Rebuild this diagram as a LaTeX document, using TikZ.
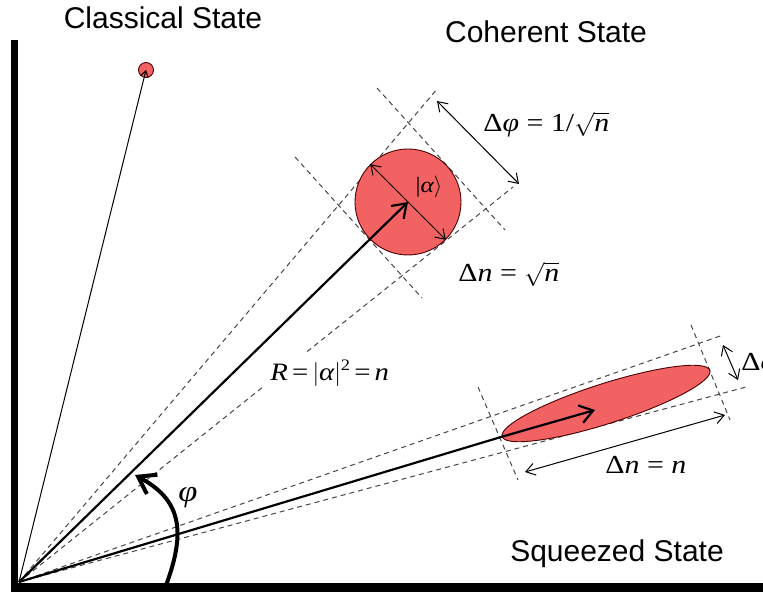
\documentclass[tikz,border=0pt]{standalone}
\usepackage{fontspec}
\newfontfamily\labfont{Liberation Sans}
\newfontfamily\tnr[FakeStretch=1.15]{Liberation Serif}
\newcommand\vi[1]{{\itshape #1}}
\usetikzlibrary{arrows.meta,shapes.geometric}
\definecolor{blobred}{RGB}{242,98,98}
\definecolor{guidegray}{RGB}{70,70,70}
\begin{document}
\begin{tikzpicture}[x=0.5pt,y=-0.5pt,
  vaxis/.style={line width=3.6pt},
  haxis/.style={line width=4.3pt},
  guide/.style={draw=guidegray, line width=0.5pt, dash pattern=on 2.5pt off 2pt},
  ray/.style={line width=1.1pt},
  thinray/.style={line width=0.5pt, -{Straight Barb[length=3pt,width=4pt]}},
  blob/.style={fill=blobred, draw=black!70!red, line width=0.45pt, inner sep=0pt},
  dim/.style={line width=0.5pt, {Straight Barb[length=4.5pt,width=6pt]}-{Straight Barb[length=4.5pt,width=6pt]}},
  head/.style={-{Straight Barb[length=6.5pt,width=9pt]}},
  title/.style={font=\labfont\fontsize{15}{18}\selectfont, anchor=base, inner sep=0pt},
  mlab/.style={font=\tnr\fontsize{13}{15}\selectfont, inner sep=0pt, anchor=base west},
]
\useasboundingbox (0,0) rectangle (763,592);

% axes
\coordinate (vtop) at (14.6,40);
\coordinate (vbot) at (14.6,592);
\coordinate (hl) at (11,587.5);
\coordinate (hr) at (770,587.5);
\draw[vaxis] (vtop) -- (vbot);
\draw[haxis] (hl) -- (hr);

\coordinate (O) at (19,582);

% ---------- coherent state guides
\coordinate (cU) at (438,88);
\coordinate (cL) at (513,187);
\coordinate (cn1) at (295,157);
\coordinate (cn2) at (422,298);
\coordinate (cf1) at (377,88);
\coordinate (cf2) at (505,230);
\draw[guide] (O) -- (cU);
\draw[guide] (O) -- (cL);
\draw[guide] (cn1) -- (cn2);
\draw[guide] (cf1) -- (cf2);

% ---------- squeezed state guides
\coordinate (sU) at (723,335);
\coordinate (sL) at (746,387);
\coordinate (sn1) at (478,387);
\coordinate (sn2) at (518,480);
\coordinate (sf1) at (691,325);
\coordinate (sf2) at (730,420);
\draw[guide] (O) -- (sU);
\draw[guide] (O) -- (sL);
\draw[guide] (sn1) -- (sn2);
\draw[guide] (sf1) -- (sf2);

% ---------- blobs
\node[blob, circle, minimum size=7.5pt] (cl) at (146,70) {};
\node[blob, circle, minimum size=53pt] (co) at (408,202) {};
\node[blob, ellipse, minimum width=109pt, minimum height=20pt, rotate=17.7] (sq) at (606,403.5) {};

% ---------- rays
\draw[thinray] (O) -- (cl.center);
\draw[ray, head] (O) -- (co.center);
\draw[ray] (O) -- (sq.west);
\coordinate (sqtip) at (595,410);
\draw[ray, head] (sq.west) -- (sqtip);

% ---------- dimension arrows
\draw[dim] (co.135) -- (co.-45);
\coordinate (dp1) at (437,101);
\coordinate (dp2) at (519,184);
\draw[dim] (dp1) -- (dp2);
\coordinate (dn1) at (525,472);
\coordinate (dn2) at (725,415);
\draw[dim] (dn1) -- (dn2);
\coordinate (ds1) at (723,345);
\coordinate (ds2) at (738,380);
\draw[dim] (ds1) -- (ds2);

% ---------- angle arc
\coordinate (arcS) at (165,588);
\coordinate (arcE) at (135,475);
\draw[line width=2pt, -{Straight Barb[length=8pt,width=11pt]}] (arcS) .. controls (188,528) and (179,499) .. (arcE);

% ---------- labels
\node[title] (tcl) at (163,29) {Classical State};
\node[title] (tco) at (546,43) {Coherent State};
\node[title] (tsq) at (617,561) {Squeezed State};

\node[mlab] (ldphi) at (483,132) {Δ\vi{φ} = 1/$\sqrt{\hbox{\tnr\fontsize{13}{15}\selectfont\vi{n}}}$};
\node[mlab] (ldn) at (458,282) {Δ\vi{n} = $\sqrt{\hbox{\tnr\fontsize{13}{15}\selectfont\vi{n}}}$};
\node[mlab] (ldnn) at (605,473) {Δ\vi{n} = \vi{n}};
\node[mlab, font=\tnr\fontsize{12.5}{14}\selectfont, fill=white, inner sep=3pt] (lR) at (264,380) {\vi{R}\,=\,$\left|\hbox{\tnr\fontsize{12.5}{14}\selectfont\vi{α}}\right|$\raisebox{5pt}{\fontsize{8}{9}\selectfont 2}\,=\,\vi{n}};
\node[font=\tnr\fontsize{11}{13}\selectfont, inner sep=0pt] (lket) at (429,187) {|\vi{α}$\rangle$};
\node[font=\tnr\fontsize{15}{17}\selectfont, inner sep=0pt] (lphi) at (188,498) {\vi{φ}};
\node[mlab] (lsphi) at (741,370) {Δ\vi{φ}};
\end{tikzpicture}
\end{document}
